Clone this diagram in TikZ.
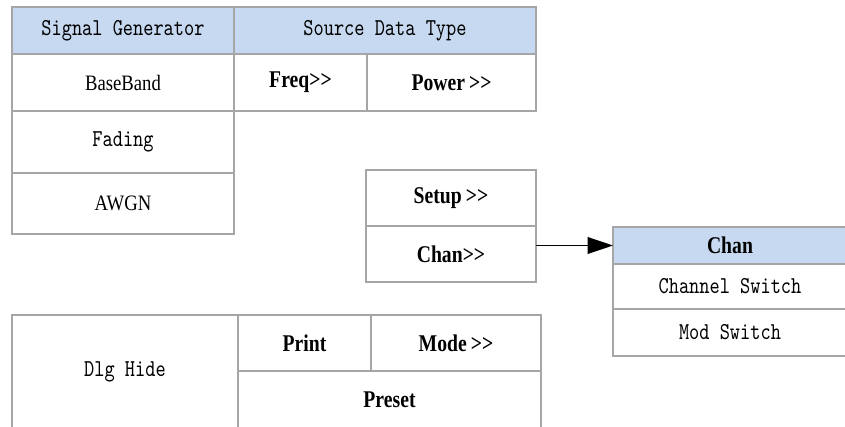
\documentclass[tikz,border=0pt]{standalone}
\usepackage{fontspec}
\usepackage{tikz}
\usetikzlibrary{arrows.meta,positioning}
\newfontfamily\simmono[FakeStretch=0.8]{lmmono10-regular.otf}
\newfontfamily\simserif[FakeStretch=0.85]{Liberation Serif}
\newfontfamily\simbold[FakeStretch=0.82]{Liberation Serif}
\definecolor{gridgray}{RGB}{166,166,166}
\definecolor{headblue}{RGB}{198,217,240}

\begin{document}
\begin{tikzpicture}[
  x=0.75pt, y=-0.75pt,
  cell/.style 2 args={
    draw=gridgray, line width=1.1pt, minimum width=#1*0.75pt, minimum height=#2*0.75pt,
    inner sep=0pt, outer sep=0pt, anchor=north west, align=center
  },
  head/.style={fill=headblue, font=\fontsize{18.2}{20}\simmono},
  txt/.style={font=\fontsize{18.2}{20}\simmono},
  rom/.style={font=\fontsize{16.5}{18}\simserif},
  key/.style={font=\fontsize{18}{20}\simbold\bfseries},
  arr/.style={-{Triangle[length=19pt,width=12.5pt]}, line width=1.1pt}
]
\useasboundingbox (0,0) rectangle (845,427);

% generator menu
\node[cell={222}{47}, head] (sg) at (12,7) {Signal Generator};
\node[cell={302}{47}, head] (sdt) at (234,7) {Source Data Type};
\node[cell={222}{57}, rom] (base) at (12,54) {BaseBand};
\node[cell={133}{57}, key] (freq) at (234,54) {Freq>{}>};
\node[cell={169}{57}, key] (power) at (367,54) {Power\,>{}>};
\node[cell={222}{62}, txt] (fad) at (12,111) {Fading};
\node[cell={222}{61}, rom] (awgn) at (12,173) {AWGN};

% setup / chan keys
\node[cell={170}{56}, key] (setup) at (366,170) {Setup\,>{}>};
\node[cell={170}{56}, key] (chanbtn) at (366,226) {Chan>{}>};

% chan submenu
\node[cell={234}{37}, head, key] (chan) at (613,227) {Chan};
\node[cell={234}{45}, txt] (chsw) at (613,264) {Channel Switch};
\node[cell={234}{47}, txt] (modsw) at (613,309) {Mod Switch};

% bottom bar
\node[cell={226}{113}, txt] (dlg) at (12,315) {Dlg Hide};
\node[cell={133}{56}, key] (print) at (238,315) {Print};
\node[cell={170}{56}, key] (mode) at (371,315) {Mode\,>{}>};
\node[cell={303}{57}, key] (preset) at (238,371) {Preset};

\draw[arr] (chanbtn.east |- chan.west) -- (chan.west);
\end{tikzpicture}
\end{document}
